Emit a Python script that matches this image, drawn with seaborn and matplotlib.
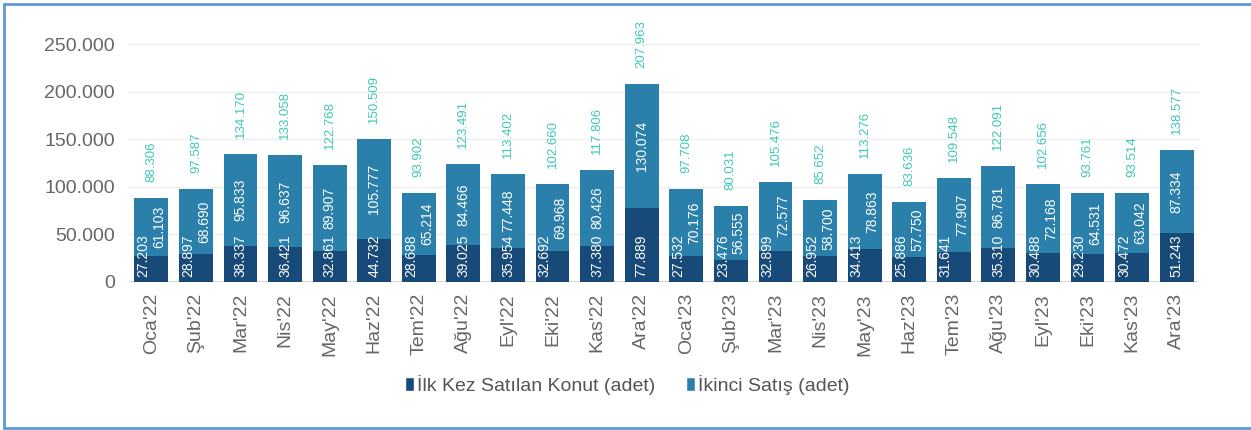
import numpy as np
import pandas as pd
import matplotlib
matplotlib.use("Agg")
import matplotlib.pyplot as plt
import seaborn as sns
from matplotlib import font_manager as fm
from matplotlib.patches import Patch
from matplotlib.lines import Line2D

# ---- data ----
months = ["Oca'22", "Şub'22", "Mar'22", "Nis'22", "May'22", "Haz'22", "Tem'22", "Ağu'22",
          "Eyl'22", "Eki'22", "Kas'22", "Ara'22", "Oca'23", "Şub'23", "Mar'23", "Nis'23",
          "May'23", "Haz'23", "Tem'23", "Ağu'23", "Eyl'23", "Eki'23", "Kas'23", "Ara'23"]
ilk_kez = [27203, 28897, 38337, 36421, 32861, 44732, 28688, 39025, 35954, 32692, 37380, 77889,
           27532, 23476, 32899, 26952, 34413, 25886, 31641, 35310, 30488, 29230, 30472, 51243]
ikinci = [61103, 68690, 95833, 96637, 89907, 105777, 65214, 84466, 77448, 69968, 80426, 130074,
          70176, 56555, 72577, 58700, 78863, 57750, 77907, 86781, 72168, 64531, 63042, 87334]
series_names = ["İlk Kez Satılan Konut (adet)", "İkinci Satış (adet)"]
yticks = [0, 50000, 100000, 150000, 200000, 250000]

# ---- style ----
DARK = "#174a78"
LIGHT = "#2a7fab"
TEAL = "#3ec9b6"
GRAY = "#666666"

sns.set_theme(style="white")
names = {f.name for f in fm.fontManager.ttflist}
NARROW = "Liberation Sans Narrow" if "Liberation Sans Narrow" in names else "Liberation Sans"
lab_size = 12 if NARROW == "Liberation Sans Narrow" else 10
plt.rcParams['font.family'] = ['Liberation Sans', 'DejaVu Sans']

def fmt(v):
    return f"{v:,}".replace(",", ".")

df = pd.DataFrame({"Ay": months, "ilk": ilk_kez, "ikinci": ikinci})
df["toplam"] = df["ilk"] + df["ikinci"]

W, H = 1251, 430
fig = plt.figure(figsize=(W / 100, H / 100), dpi=100)
ax = fig.add_axes([129 / W, 148 / H, 1070 / W, 249.4 / H])

sns.barplot(data=df, x="Ay", y="toplam", color=LIGHT, saturation=1, width=0.76,
            errorbar=None, ax=ax, linewidth=0)
sns.barplot(data=df, x="Ay", y="ilk", color=DARK, saturation=1, width=0.76,
            errorbar=None, ax=ax, linewidth=0)

ax.set_ylim(0, 262000)
ax.set_xlim(-0.5, len(months) - 0.5)
ax.set_yticks(yticks)
ax.set_yticklabels([fmt(v) for v in yticks])
ax.yaxis.grid(True, color="#efefef", lw=1)
ax.set_axisbelow(True)
ax.axhline(0, color="#d3d3d3", lw=1.5, zorder=0.5)
for s in ax.spines.values():
    s.set_visible(False)
ax.tick_params(axis="both", length=0, labelsize=14, labelcolor=GRAY)
ax.tick_params(axis="y", pad=10)
ax.tick_params(axis="x", pad=8, labelrotation=90)
ax.set_xlabel("")
ax.set_ylabel("")

px = 250000 / 238.0  # data units per pixel
bars = ax.patches[:len(months)]
for bar, a, b, t in zip(bars, df["ilk"], df["ikinci"], df["toplam"]):
    xc = bar.get_x() + bar.get_width() / 2
    off = 0.18 if t < 113350 else 0.0
    ax.text(xc - off, 5 * px, fmt(a), rotation=90, ha="center", va="bottom",
            color="white", fontsize=lab_size, family=NARROW)
    yc = min(a + b / 2, t - 26 * px)
    ax.text(xc + off, yc, fmt(b), rotation=90, ha="center", va="center",
            color="white", fontsize=lab_size, family=NARROW)
    ax.text(xc, t + 16 * px, fmt(t), rotation=90, ha="center", va="bottom",
            color=TEAL, fontsize=lab_size - 0.5, family=NARROW)

handles = [Patch(facecolor=DARK, label=series_names[0]),
           Patch(facecolor=LIGHT, label=series_names[1])]
fig.legend(handles=handles, loc="center", bbox_to_anchor=(627 / W, 1 - 385 / H), ncol=2,
           frameon=False, fontsize=14, handlelength=0.45, handleheight=0.75,
           handletextpad=0.15, columnspacing=1.6, labelcolor="#555555")

# frame: left, top and bottom edges only (right edge falls outside the picture)
bx0, by0, by1 = 4 / W, 2 / H, 426 / H
for xs, ys in [([bx0, bx0], [by0, by1]), ([bx0, 1.0], [by1, by1]), ([bx0, 1.0], [by0, by0])]:
    fig.add_artist(Line2D(xs, ys, transform=fig.transFigure, color="#5b9bd5", lw=2))

fig.savefig("out.png", dpi=100)
